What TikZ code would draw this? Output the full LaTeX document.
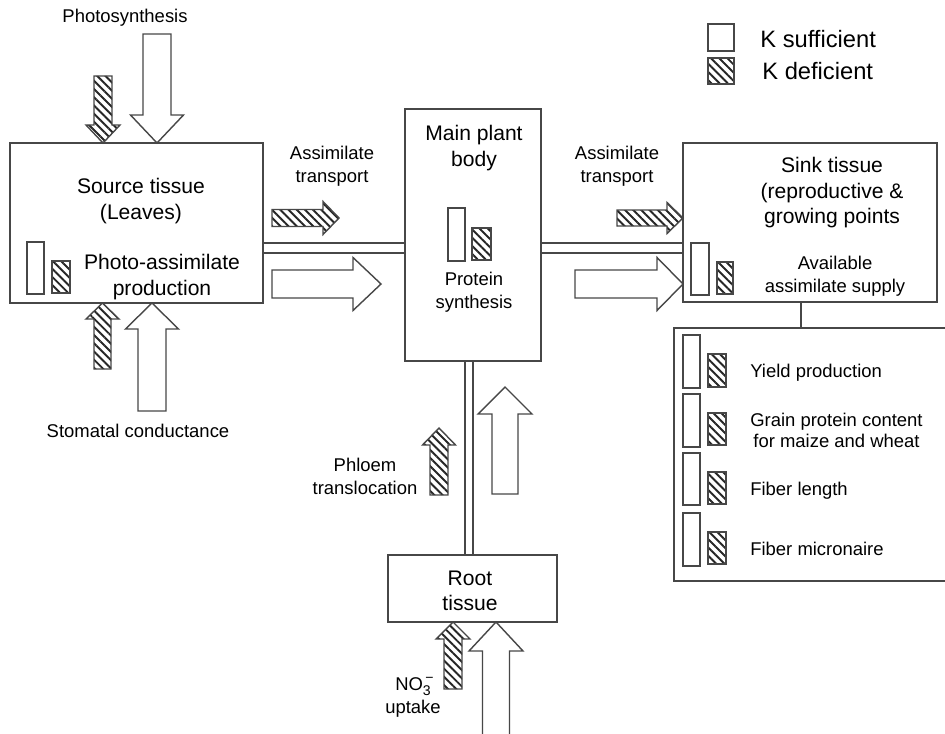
\documentclass[tikz,border=0pt]{standalone}
\usepackage{fontspec}
\setmainfont{Liberation Sans}
\usetikzlibrary{patterns.meta}
\tikzset{
  ln/.style={draw=black!72, line width=0.8pt, line join=miter},
  box/.style={ln, inner sep=0pt, fill=white},
  hatch/.style={ln, pattern={Lines[angle=-45,distance=3.3pt,line width=1.1pt]}, pattern color=black!85},
  wht/.style={ln, fill=white},
  lbl/.style={font=\fontsize{10.5}{13}\selectfont, align=center, inner sep=0pt},
  ttl/.style={font=\fontsize{12}{14.5}\selectfont, align=center, inner sep=0pt},
  leg/.style={font=\fontsize{13.5}{16}\selectfont, anchor=west, inner sep=0pt},
}
% #1 style, #2 centre x, #3 tip y, #4 tail y, #5 half shaft, #6 half head, #7 head base y
\newcommand{\vArr}[7]{\draw[#1] ({#2-#5},#4) -- ({#2-#5},#7) -- ({#2-#6},#7) -- (#2,#3) -- ({#2+#6},#7) -- ({#2+#5},#7) -- ({#2+#5},#4) -- cycle;}
% #1 style, #2 centre y, #3 tip x, #4 tail x, #5 half shaft, #6 half head, #7 head base x
\newcommand{\hArr}[7]{\draw[#1] (#4,{#2-#5}) -- (#7,{#2-#5}) -- (#7,{#2-#6}) -- (#3,#2) -- (#7,{#2+#6}) -- (#7,{#2+#5}) -- (#4,{#2+#5}) -- cycle;}
\begin{document}
\begin{tikzpicture}[x=0.02cm, y=-0.02cm]
\useasboundingbox (0,0) rectangle (945,733);
\clip (0,0) rectangle (945,733);
\fill[white] (0,0) rectangle (945,733);

% boxes
\node[box, minimum width=5.06cm, minimum height=3.2cm] (src) at (136.5,223) {};
\node[box, minimum width=2.72cm, minimum height=5.04cm] (main) at (473,235) {};
\node[box, minimum width=5.08cm, minimum height=3.18cm] (sink) at (810,222.5) {};
\node[box, minimum width=5.52cm, minimum height=5.06cm] (res) at (812,454.5) {};
\node[box, minimum width=3.38cm, minimum height=1.34cm] (root) at (472.5,588.5) {};

% pipes
\coordinate (pa) at (0,243);
\coordinate (pb) at (0,253);
\coordinate (pc) at (465,0);
\coordinate (pd) at (473,0);
\coordinate (pe) at (801,0);
\draw[ln] (src.east |- pa) -- (main.west |- pa);
\draw[ln] (src.east |- pb) -- (main.west |- pb);
\draw[ln] (main.east |- pa) -- (sink.west |- pa);
\draw[ln] (main.east |- pb) -- (sink.west |- pb);
\draw[ln] (main.south -| pc) -- (root.north -| pc);
\draw[ln] (main.south -| pd) -- (root.north -| pd);
\draw[ln] (sink.south -| pe) -- (res.north -| pe);

% fat arrows
\vArr{wht}{157}{143}{34}{14}{26.5}{115}
\vArr{hatch}{103}{143}{76}{9}{17}{125}
\vArr{hatch}{102.5}{303}{369}{8.5}{16.5}{319}
\vArr{wht}{152}{303}{411}{14}{26.5}{329}
\hArr{hatch}{218}{339}{272}{8.5}{16.5}{323}
\hArr{wht}{284}{381}{272}{14}{26.5}{353}
\hArr{hatch}{218}{683}{617}{8}{15.5}{667}
\hArr{wht}{284}{683}{575}{14}{26.5}{657}
\vArr{wht}{505}{387}{494}{13}{27}{414}
\vArr{hatch}{439}{428}{495}{9}{16.5}{445}
\vArr{hatch}{453}{622}{689}{9}{17}{639}
\vArr{wht}{496}{622}{736}{13.5}{27}{651}

% small bars
\draw[wht] (27,242) rectangle (44,294);
\draw[hatch] (52,261) rectangle (70,293);
\draw[wht] (448,208) rectangle (465,261);
\draw[hatch] (472,228) rectangle (491,260);
\draw[wht] (691,243) rectangle (709,295);
\draw[hatch] (717,262) rectangle (733,294);
\foreach \a/\b/\c/\d in {335/388/354/387, 394/447/413/445, 453/505/472/504, 513/566/532/564}{
  \draw[wht] (683,\a) rectangle (700,\b);
  \draw[hatch] (708,\c) rectangle (726,\d);
}

% legend
\draw[wht] (708,24) rectangle (734,51);
\draw[hatch] (708,58) rectangle (734,84);
\node[leg] (lg1) at (760,39) {K sufficient};
\node[leg] (lg2) at (762,71) {K deficient};

% texts
\node[lbl] (t1) at (125,18) {Photosynthesis};
\node[ttl] (t2) at (141,201) {Source tissue\\(Leaves)};
\node[ttl] (t3) at (162,277) {Photo-assimilate\\production};
\node[lbl] (t4) at (138,431) {Stomatal conductance};
\node[lbl] (t5) at (332,166) {Assimilate\\transport};
\node[lbl] (t6) at (617,166) {Assimilate\\transport};
\node[ttl] (t7) at (474,148) {Main plant\\body};
\node[lbl] (t8) at (474,292) {Protein\\synthesis};
\node[ttl] (t9) at (832,193) {Sink tissue\\(reproductive \&\\growing points};
\node[lbl] (t10) at (835,276) {Available\\assimilate supply};
\node[lbl, anchor=west] (t11) at (750,373) {Yield production};
\node[lbl, anchor=west, font=\fontsize{10.5}{12}\selectfont] (t12) at (750,430) {Grain protein content\\for maize and wheat};
\node[lbl, anchor=west] (t13) at (750,491) {Fiber length};
\node[lbl, anchor=west] (t14) at (750,549) {Fiber micronaire};
\node[ttl] (t15) at (470,591) {Root\\tissue};
\node[lbl] (t16) at (365,476) {Phloem\\translocation};
\node[lbl] (t17) at (413,697) {NO\rlap{\raisebox{0.85ex}{\fontsize{8}{8}\selectfont\,−}}\raisebox{-0.55ex}{\fontsize{8}{8}\selectfont 3}\\uptake};
\end{tikzpicture}
\end{document}
